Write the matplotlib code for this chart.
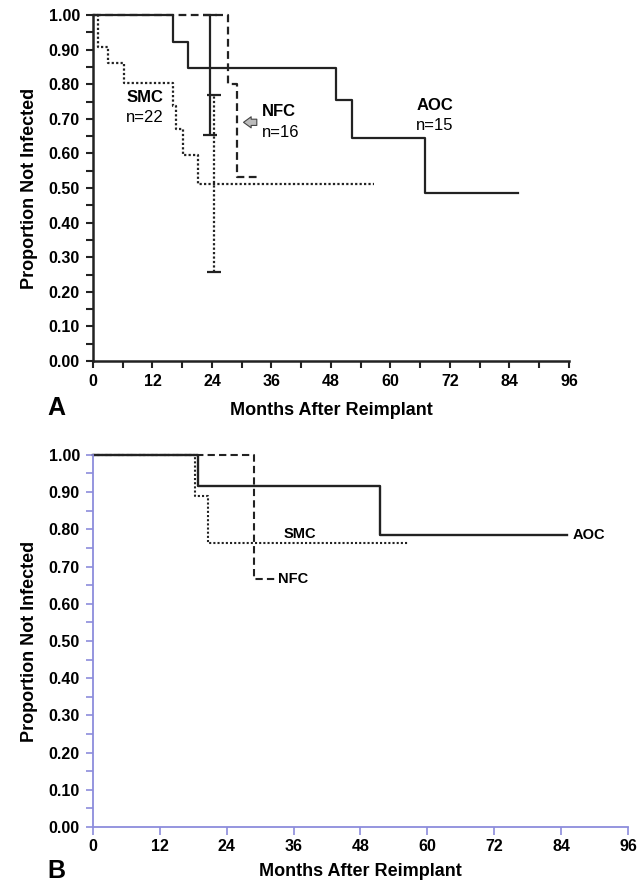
# Kaplan-Meier style curves, two panels (A and B), infection-free proportion
import matplotlib
matplotlib.use("Agg")
from matplotlib import pyplot as plt
from matplotlib.ticker import MultipleLocator, FormatStrFormatter

plt.rcParams["font.family"] = ["Liberation Sans", "DejaVu Sans"]
plt.rcParams["font.weight"] = "bold"

# Panel A data (months, proportion)
a_aoc_t = [0, 16.1, 19.2, 49.0, 52.2, 67.0, 85.7]
a_aoc_s = [1.00, 0.923, 0.846, 0.754, 0.646, 0.485, 0.485]
a_smc_t = [0, 1.1, 3.1, 6.3, 16.1, 16.7, 18.2, 21.2, 56.7]
a_smc_s = [1.00, 0.909, 0.860, 0.805, 0.737, 0.671, 0.596, 0.512, 0.512]
a_nfc_t = [0, 27.2, 29.1, 33.0]
a_nfc_s = [1.00, 0.800, 0.533, 0.533]
# confidence bars at 24 months: AOC (solid), SMC (dotted)
a_ci_t = [23.5, 24.4]
a_ci_lo = [0.653, 0.257]
a_ci_hi = [1.00, 0.770]

# Panel B data
b_aoc_t = [0, 18.9, 51.5, 85.0]
b_aoc_s = [1.00, 0.917, 0.786, 0.786]
b_smc_t = [0, 18.3, 20.7, 56.5]
b_smc_s = [1.00, 0.889, 0.764, 0.764]
b_nfc_t = [0, 28.9, 33.0]
b_nfc_s = [1.00, 0.667, 0.667]

DOT = (0, (1, 1))
DASH = (0, (3.5, 2))
LC = "#222222"
NARROW = ["Liberation Sans Narrow", "Liberation Sans", "DejaVu Sans"]

fig = plt.figure(figsize=(6.43, 8.85), dpi=100)
axA = fig.add_axes([0.1446, 0.592, 0.7403, 0.391])
axB = fig.add_axes([0.1446, 0.0655, 0.8320, 0.4205])

for ax in (axA, axB):
    ax.set_xlim(0, 96)
    ax.set_ylim(0, 1.0)
    ax.spines["top"].set_visible(False)
    ax.spines["right"].set_visible(False)
    ax.yaxis.set_major_locator(MultipleLocator(0.10))
    ax.yaxis.set_minor_locator(MultipleLocator(0.05))
    ax.yaxis.set_major_formatter(FormatStrFormatter("%.2f"))
    ax.xaxis.set_major_locator(MultipleLocator(12))
    ax.set_ylabel("Proportion Not Infected", fontsize=13, fontweight="bold")
    ax.set_xlabel("Months After Reimplant", fontsize=13, fontweight="bold")
    ax.xaxis.label.set_va("baseline")

# ---- Panel A ----
axA.step(a_nfc_t, a_nfc_s, where="post", color=LC, lw=1.6, ls=DASH, clip_on=False)
axA.step(a_smc_t, a_smc_s, where="post", color=LC, lw=1.6, ls=DOT, clip_on=False)
axA.step(a_aoc_t, a_aoc_s, where="post", color=LC, lw=1.6, clip_on=False)
mid = [(lo + hi) / 2 for lo, hi in zip(a_ci_lo, a_ci_hi)]
for i, style in enumerate(["-", DOT]):
    eb = axA.errorbar([a_ci_t[i]], [mid[i]],
                      yerr=[[mid[i] - a_ci_lo[i]], [a_ci_hi[i] - mid[i]]],
                      fmt="none", ecolor=LC, elinewidth=1.6, capsize=5,
                      capthick=1.6, clip_on=False)
    eb[2][0].set_linestyle(style)

axA.text(10.5, 0.763, "SMC", fontsize=12, fontweight="bold", ha="center", va="center")
axA.text(10.5, 0.705, "n=22", fontsize=12, fontweight="normal", ha="center", va="center")
axA.text(34.0, 0.72, "NFC", fontsize=12, fontweight="bold", ha="left", va="center")
axA.text(34.0, 0.66, "n=16", fontsize=12, fontweight="normal", ha="left", va="center")
axA.text(69, 0.74, "AOC", fontsize=12, fontweight="bold", ha="center", va="center")
axA.text(69, 0.68, "n=15", fontsize=12, fontweight="normal", ha="center", va="center")
axA.annotate("", xy=(29.8, 0.69), xytext=(33.6, 0.69),
             arrowprops=dict(arrowstyle="simple,head_width=0.8,head_length=0.55,tail_width=0.45",
                             fc="#bbbbbb", ec="#444444", lw=0.8))

axA.xaxis.set_minor_locator(MultipleLocator(6))
axA.tick_params(axis="both", which="both", direction="out", length=5, width=1.5,
                color="#222222", labelsize=11.5)
axA.tick_params(axis="x", pad=4)
axA.tick_params(axis="y", pad=4.5)
for s in ("left", "bottom"):
    axA.spines[s].set_linewidth(1.8)
    axA.spines[s].set_color("#222222")
for lab in axA.get_xticklabels() + axA.get_yticklabels():
    lab.set_fontweight("bold")
axA.yaxis.set_label_coords(-0.116, 0.5)
axA.xaxis.set_label_coords(0.5, -0.156)

# ---- Panel B ----
BC = "#8c8cdc"
axB.step(b_nfc_t, b_nfc_s, where="post", color=LC, lw=1.5, ls=DASH, clip_on=False)
axB.step(b_smc_t, b_smc_s, where="post", color=LC, lw=1.5, ls=DOT, clip_on=False)
axB.step(b_aoc_t, b_aoc_s, where="post", color=LC, lw=1.7, clip_on=False)
axB.text(86.0, b_aoc_s[-1], "AOC", fontsize=10.5, fontweight="bold", ha="left", va="center")
axB.text(37.2, 0.768, "SMC", fontsize=10.5, fontweight="bold", ha="center", va="bottom")
axB.text(33.2, b_nfc_s[-1], "NFC", fontsize=10.5, fontweight="bold", ha="left", va="center")

axB.tick_params(axis="y", which="both", direction="out", length=5, width=1.2,
                color=BC, labelsize=11.5, pad=4.5)
axB.tick_params(axis="x", which="both", direction="out", length=6, width=1.2,
                color=BC, labelsize=11.5, pad=2.5)
for s in ("left", "bottom"):
    axB.spines[s].set_linewidth(1.3)
    axB.spines[s].set_color(BC)
for lab in axB.get_xticklabels() + axB.get_yticklabels():
    lab.set_fontweight("bold")
    lab.set_family(NARROW)
axB.yaxis.set_label_coords(-0.103, 0.5)
axB.xaxis.set_label_coords(0.5, -0.132)

fig.text(0.073, 0.531, "A", fontsize=18, fontweight="bold", ha="left", va="baseline")
fig.text(0.073, 0.008, "B", fontsize=18, fontweight="bold", ha="left", va="baseline")

fig.savefig("out.png", dpi=100)
